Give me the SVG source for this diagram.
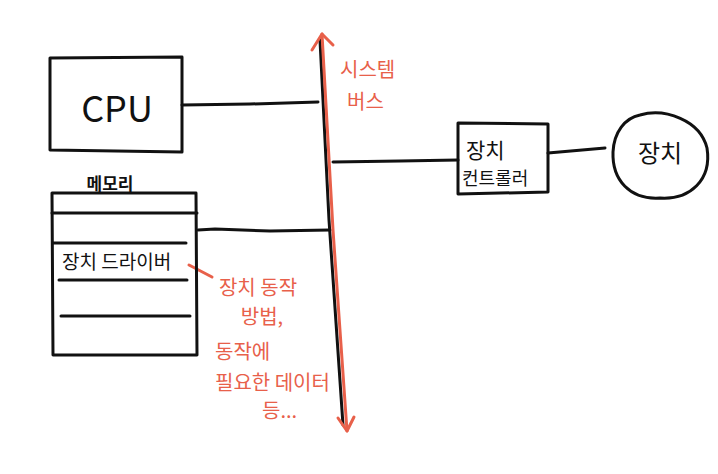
<svg xmlns="http://www.w3.org/2000/svg" width="718" height="474" viewBox="0 0 718 474">
<style>
.k{fill:none;stroke:#111;stroke-width:3;stroke-linecap:round;stroke-linejoin:round}
.r{fill:none;stroke:#e8604a;stroke-width:3;stroke-linecap:round;stroke-linejoin:round}
.t{font-family:"Noto Sans CJK KR","Noto Sans",sans-serif;fill:#111}
.rt{font-family:"Noto Sans CJK KR","Noto Sans",sans-serif;fill:#e8604a;font-size:20px}
</style>
<rect width="718" height="474" fill="#fff"/>
<g id="connectors">
<path class="k" d="M182,105 L250,104 L318,102"/>
<path class="k" d="M198,230 L215,229 L270,231 L330,230"/>
<path class="k" d="M333,162 L400,161 L458,160"/>
<path class="k" d="M548,153 L605,148"/>
<path class="r" d="M189,265 L212,277"/>
</g>
<g id="system-bus">
<path class="k" d="M320,40 L329,220 L343,425"/>
<path class="r" d="M322,34 L333,230 L347,431"/>
<path class="r" d="M312,50 L322,34 L333,45"/>
<path class="r" d="M338,418 L347,431 L354,417"/>
<text class="rt" x="340" y="77">시스템</text>
<text class="rt" x="347" y="109">버스</text>
</g>
<g id="cpu">
<path class="k" d="M50,58 L182,57 L182,152 L50,150 Z"/>
<text class="t" x="117" y="122" font-size="36" text-anchor="middle">CPU</text>
</g>
<g id="memory">
<text class="t" x="110" y="190" font-size="17" text-anchor="middle" font-weight="bold">메모리</text>
<path class="k" d="M52,193 L196,193 L197,355 L53,355 Z"/>
<path class="k" d="M52,213 L197,213"/>
<path class="k" d="M53,243 L186,243"/>
<path class="k" d="M59,280 L187,280"/>
<path class="k" d="M61,316 L190,316"/>
<text class="t" x="62" y="269" font-size="19">장치 드라이버</text>
</g>
<g id="annotation">
<text class="rt" x="258" y="295" text-anchor="middle">장치 동작</text>
<text class="rt" x="262" y="324" text-anchor="middle">방법,</text>
<text class="rt" x="215" y="359">동작에</text>
<text class="rt" x="215" y="390">필요한 데이터</text>
<text class="rt" x="262" y="418">등...</text>
</g>
<g id="device-controller">
<path class="k" d="M458,123 L548,124 L548,192 L458,194 Z"/>
<text class="t" x="466" y="158" font-size="21">장치</text>
<text class="t" x="462" y="185" font-size="18">컨트롤러</text>
</g>
<g id="device">
<path class="k" d="M640,115 C665,108 700,120 707,148 C712,180 690,200 660,198 C630,200 612,180 613,152 C614,132 625,118 640,115 Z"/>
<text class="t" x="660" y="162" font-size="24" text-anchor="middle">장치</text>
</g>
</svg>
